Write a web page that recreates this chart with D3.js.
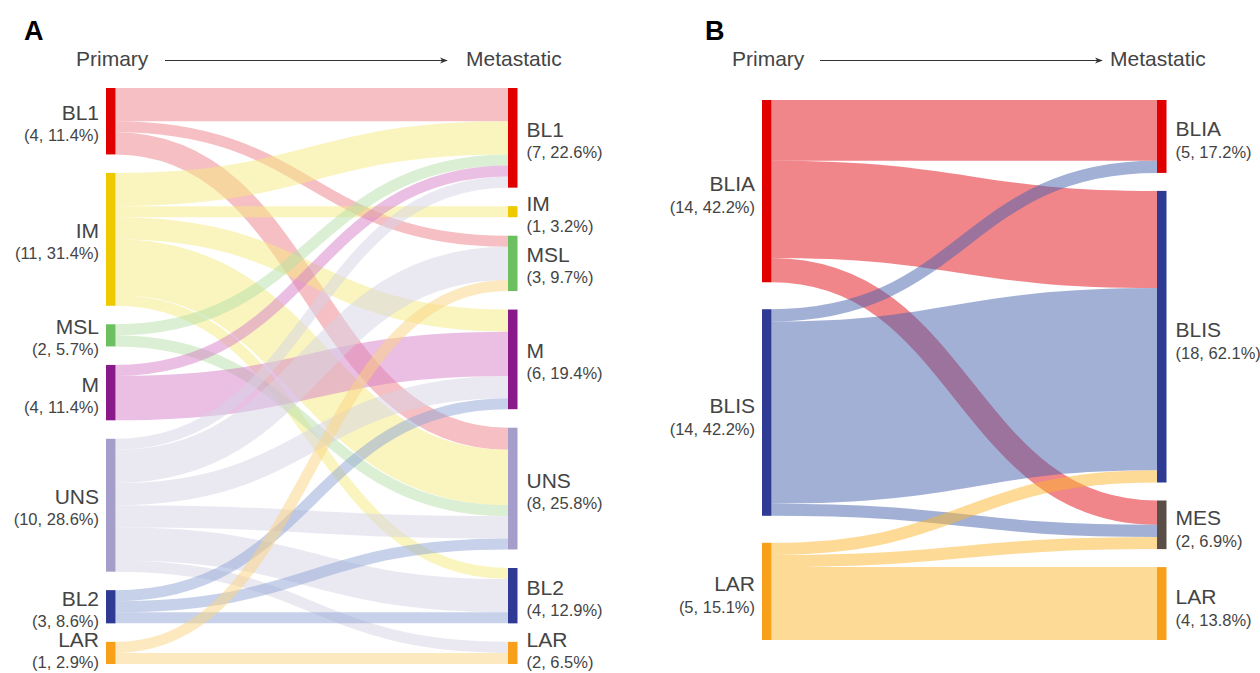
<!DOCTYPE html>
<html>
<head>
<meta charset="utf-8">
<script src="https://cdn.jsdelivr.net/npm/d3@7"></script>
<style>
  body { margin: 0; background: #fff; }
  svg { display: block; font-family: "Liberation Sans", Arial, sans-serif; }
</style>
</head>
<body>
<div id="chart"></div>
<script>
// Panel A: TNBC subtypes (Lehmann)
const aPrimaryNames = ['BL1', 'IM', 'MSL', 'M', 'UNS', 'BL2', 'LAR'];
const aPrimaryCounts = [4, 11, 2, 4, 10, 3, 1];
const aPrimaryPct = [11.4, 31.4, 5.7, 11.4, 28.6, 8.6, 2.9];
const aMetaNames = ['BL1', 'IM', 'MSL', 'M', 'UNS', 'BL2', 'LAR'];
const aMetaCounts = [7, 1, 3, 6, 8, 4, 2];
const aMetaPct = [22.6, 3.2, 9.7, 19.4, 25.8, 12.9, 6.5];
const aFlows = [
  ['BL1', 'BL1', 3], ['BL1', 'MSL', 1], ['BL1', 'UNS', 2],
  ['IM', 'BL1', 3], ['IM', 'IM', 1], ['IM', 'M', 2], ['IM', 'UNS', 5], ['IM', 'BL2', 1],
  ['MSL', 'BL1', 1], ['MSL', 'UNS', 1],
  ['M', 'BL1', 1], ['M', 'M', 4],
  ['UNS', 'BL1', 1], ['UNS', 'MSL', 3], ['UNS', 'M', 2], ['UNS', 'UNS', 2], ['UNS', 'BL2', 3], ['UNS', 'LAR', 1],
  ['BL2', 'M', 1], ['BL2', 'UNS', 1], ['BL2', 'BL2', 1],
  ['LAR', 'MSL', 1], ['LAR', 'LAR', 1]
];

// Panel B: Burstein subtypes
const bPrimaryNames = ['BLIA', 'BLIS', 'LAR'];
const bPrimaryCounts = [14, 14, 5];
const bPrimaryPct = [42.2, 42.2, 15.1];
const bMetaNames = ['BLIA', 'BLIS', 'MES', 'LAR'];
const bMetaCounts = [5, 18, 2, 4];
const bMetaPct = [17.2, 62.1, 6.9, 13.8];
const bFlows = [
  ['BLIA', 'BLIA', 5], ['BLIA', 'BLIS', 8], ['BLIA', 'MES', 2],
  ['BLIS', 'BLIA', 1], ['BLIS', 'BLIS', 15], ['BLIS', 'MES', 1],
  ['LAR', 'BLIS', 1], ['LAR', 'MES', 1], ['LAR', 'LAR', 6]
];

const aNodeColor = {
  BL1: '#e00000', IM: '#eec900', MSL: '#6cc060', M: '#8a1a8a',
  UNS: '#a59dca', BL2: '#2e3a94', LAR: '#f9a01b'
};
const aLinkColor = {
  BL1: '#ee8088', IM: '#f5ec80', MSL: '#b5dfa8', M: '#d680c8',
  UNS: '#d5d3e6', BL2: '#8fa5d6', LAR: '#fcd480'
};
const bNodeColor = { BLIA: '#e00000', BLIS: '#2e3a94', MES: '#5a4e48', LAR: '#f9a01b' };
const bLinkColor = { BLIA: '#e10c16', BLIS: '#4562ae', LAR: '#fbb62e' };

const width = 1260, height = 673;
const labelColor = '#444';

const svg = d3.select('#chart').append('svg')
  .attr('width', width)
  .attr('height', height);

svg.append('defs').append('marker')
  .attr('id', 'arrow')
  .attr('viewBox', '0 0 10 10')
  .attr('refX', 9)
  .attr('refY', 5)
  .attr('markerWidth', 8)
  .attr('markerHeight', 8)
  .attr('markerUnits', 'userSpaceOnUse')
  .attr('orient', 'auto')
  .append('path')
  .attr('d', 'M0,1 L10,5 L0,9 L3,5 Z')
  .attr('fill', '#333');

function drawSankey(cfg) {
  const g = svg.append('g');

  const makeNodes = (names, counts, pct) =>
    names.map((name, i) => ({ name, count: counts[i], pct: pct[i], index: i, value: 0, out: [], inn: [] }));

  const left = makeNodes(cfg.leftNames, cfg.leftCounts, cfg.leftPct);
  const right = makeNodes(cfg.rightNames, cfg.rightCounts, cfg.rightPct);

  const links = cfg.flows.map(([s, t, v]) => {
    const src = left.find((d) => d.name === s);
    const tgt = right.find((d) => d.name === t);
    const l = { source: src, target: tgt, value: v };
    src.out.push(l);
    tgt.inn.push(l);
    src.value += v;
    tgt.value += v;
    return l;
  });

  const H = cfg.y1 - cfg.y0;
  const k = d3.min([left, right], (col) =>
    (H - cfg.pad * (col.length - 1)) / d3.sum(col, (d) => d.value));
  const total = d3.sum(left, (d) => d.value);
  const yScale = d3.scaleLinear().domain([0, total]).range([0, total * k]);

  // stack each column so that it spans the full height
  [[left, cfg.xLeft], [right, cfg.xRight]].forEach(([col, x]) => {
    const used = d3.sum(col, (d) => yScale(d.value));
    const gap = (H - used) / (col.length - 1);
    let y = cfg.y0;
    col.forEach((d) => {
      d.x0 = x;
      d.x1 = x + cfg.nodeWidth;
      d.y0 = y;
      d.y1 = y + yScale(d.value);
      y = d.y1 + gap;
    });
  });

  left.forEach((n) => {
    let y = n.y0;
    n.out.sort((a, b) => a.target.index - b.target.index).forEach((l) => {
      l.width = yScale(l.value);
      l.sy = y + l.width / 2;
      y += l.width;
    });
  });
  right.forEach((n) => {
    let y = n.y0;
    n.inn.sort((a, b) => a.source.index - b.source.index).forEach((l) => {
      l.ty = y + l.width / 2;
      y += l.width;
    });
  });

  const linkPath = d3.linkHorizontal()
    .source((d) => [d.source.x1, d.sy])
    .target((d) => [d.target.x0, d.ty]);

  g.append('g')
    .selectAll('path')
    .data(links)
    .join('path')
    .attr('d', linkPath)
    .attr('fill', 'none')
    .attr('stroke', (d) => cfg.linkColor[d.source.name])
    .attr('stroke-opacity', cfg.linkOpacity)
    .attr('stroke-width', (d) => d.width);

  const nodes = left.concat(right);
  g.append('g')
    .selectAll('rect')
    .data(nodes)
    .join('rect')
    .attr('x', (d) => d.x0)
    .attr('y', (d) => d.y0)
    .attr('width', (d) => d.x1 - d.x0)
    .attr('height', (d) => d.y1 - d.y0)
    .attr('fill', (d) => cfg.nodeColor[d.name]);

  // label block sits on the node centre, lifted for the bottom nodes so it stays in view
  const labelY = (d) => Math.min((d.y0 + d.y1) / 2, height - 5 - cfg.countDy);

  const addLabels = (col, isLeft) => {
    const lab = g.append('g')
      .selectAll('g')
      .data(col)
      .join('g')
      .attr('transform', (d) =>
        `translate(${isLeft ? d.x0 - 7 : d.x1 + 9},${labelY(d)})`)
      .attr('text-anchor', isLeft ? 'end' : 'start')
      .attr('fill', labelColor);
    lab.append('text')
      .attr('y', cfg.nameDy)
      .style('font-size', '21px')
      .text((d) => d.name);
    lab.append('text')
      .attr('y', cfg.countDy)
      .style('font-size', '16.5px')
      .text((d) => `(${d.count}, ${d.pct.toFixed(1)}%)`);
  };
  addLabels(left, true);
  addLabels(right, false);

  // panel letter and header
  g.append('text')
    .attr('x', cfg.letterX)
    .attr('y', 40)
    .style('font-size', '27px')
    .style('font-weight', 'bold')
    .attr('fill', '#000')
    .text(cfg.letter);

  g.append('text')
    .attr('x', cfg.primaryX)
    .attr('y', 66)
    .style('font-size', '21px')
    .attr('fill', labelColor)
    .text('Primary');

  g.append('text')
    .attr('x', cfg.metaX)
    .attr('y', 66)
    .style('font-size', '21px')
    .attr('fill', labelColor)
    .text('Metastatic');

  g.append('line')
    .attr('x1', cfg.arrowX1)
    .attr('x2', cfg.arrowX2)
    .attr('y1', 60.5)
    .attr('y2', 60.5)
    .attr('stroke', '#333')
    .attr('stroke-width', 1.2)
    .attr('marker-end', 'url(#arrow)');
}

drawSankey({
  letter: 'A', letterX: 24,
  primaryX: 76, metaX: 466, arrowX1: 165, arrowX2: 447,
  leftNames: aPrimaryNames, leftCounts: aPrimaryCounts, leftPct: aPrimaryPct,
  rightNames: aMetaNames, rightCounts: aMetaCounts, rightPct: aMetaPct,
  flows: aFlows,
  xLeft: 106, xRight: 508, nodeWidth: 9.5,
  y0: 88, y1: 664, pad: 18.5,
  nameDy: -1, countDy: 20,
  nodeColor: aNodeColor, linkColor: aLinkColor, linkOpacity: 0.5
});

drawSankey({
  letter: 'B', letterX: 705,
  primaryX: 732, metaX: 1110, arrowX1: 820, arrowX2: 1102,
  leftNames: bPrimaryNames, leftCounts: bPrimaryCounts, leftPct: bPrimaryPct,
  rightNames: bMetaNames, rightCounts: bMetaCounts, rightPct: bMetaPct,
  flows: bFlows,
  xLeft: 762, xRight: 1157, nodeWidth: 9.5,
  y0: 100, y1: 640, pad: 18,
  nameDy: 0, countDy: 22,
  nodeColor: bNodeColor, linkColor: bLinkColor, linkOpacity: 0.5
});
</script>
</body>
</html>
